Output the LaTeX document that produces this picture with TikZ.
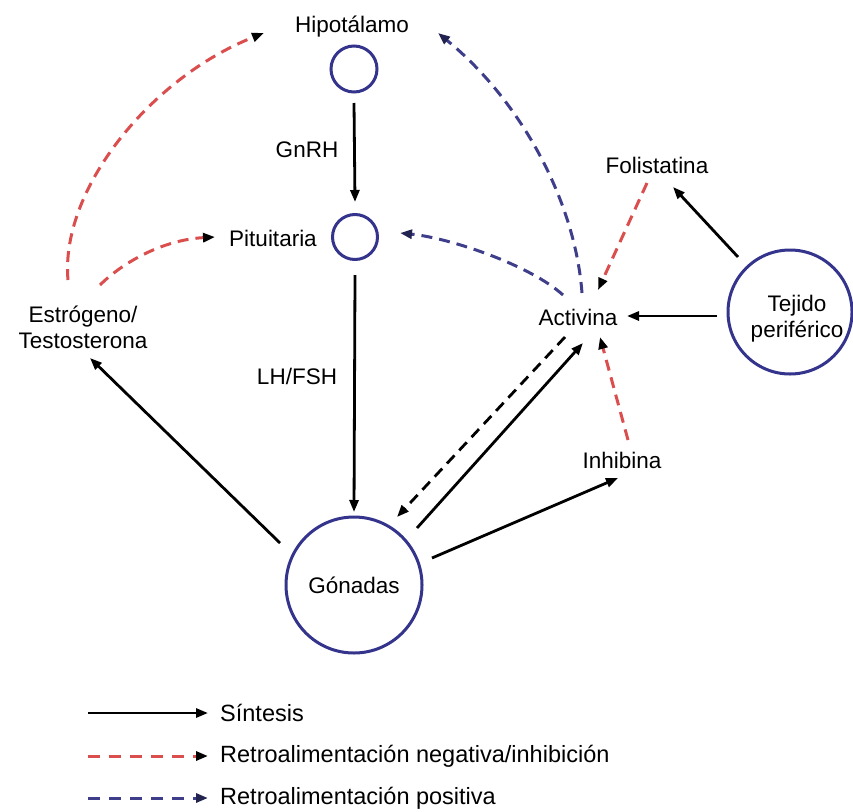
\documentclass[tikz,border=0pt]{standalone}
\usepackage{fontspec}
\setmainfont{Liberation Sans}
\usetikzlibrary{arrows.meta,calc}

\definecolor{fbred}{RGB}{218,78,78}
\definecolor{fbblue}{RGB}{62,62,138}
\definecolor{ringblue}{RGB}{52,52,140}
\definecolor{tipnavy}{RGB}{35,35,80}

\tikzset{
  lbl/.style={font=\fontsize{22.5}{26}\selectfont, inner sep=0pt, align=center},
  leglbl/.style={font=\fontsize{23.5}{27}\selectfont, inner sep=0pt, anchor=west},
  ring/.style={circle, draw=ringblue, line width=3pt, inner sep=0pt},
  tipblk/.style={-{Triangle[length=12pt,width=9pt]}},
  synth/.style={draw=black, line width=2.8pt, tipblk},
  negfb/.style={draw=fbred, line width=3pt, dash pattern=on 11pt off 7pt,
                -{Triangle[length=12pt,width=9pt,color=black]}},
  posfb/.style={draw=fbblue, line width=3pt, dash pattern=on 11pt off 7pt,
                -{Triangle[length=12pt,width=9pt,color=tipnavy]}},
  blkfb/.style={draw=black, line width=2.8pt, dash pattern=on 11pt off 7pt, tipblk},
}

\begin{document}
\begin{tikzpicture}[x=1pt,y=-1pt]
\useasboundingbox (0,0) rectangle (853,811);

% circles
\node[ring, minimum size=46pt] (hip) at (354,69) {};
\node[ring, minimum size=45pt] (pit) at (355,237) {};
\node[ring, minimum size=136pt] (gon) at (354,585) {};
\node[ring, minimum size=124pt] (tej) at (790,312) {};

% labels
\node[lbl] (hipl) at (352,27) {Hipotálamo};
\node[lbl] (pitl) at (273,238) {Pituitaria};
\node[lbl] (gnrh) at (307,150) {GnRH};
\node[lbl] (lhfsh) at (297,376) {LH/FSH};
\node[lbl] (gonl) at (gon.center) {Gónadas};
\node[lbl] (tejl) at ($(tej.center)+(7,7)$) {Tejido\\periférico};
\node[lbl] (estl) at (83,327) {Estrógeno/\\Testosterona};
\node[lbl] (fol) at (657,165) {Folistatina};
\node[lbl] (act) at (578,317) {Activina};
\node[lbl] (inh) at (622,460) {Inhibina};

% synthesis
\draw[synth] ($(hip.center)+(0,34)$) -- ($(pit.center)+(0,-35)$);
\draw[synth] ($(pit.center)+(0,38)$) -- ($(gon.center)+(0,-73)$);
\draw[synth] ($(gon.center)+(-74,-42)$) -- ($(estl.center)+(7,31)$);
\draw[synth] ($(tej.center)+(-52,-55)$) -- ($(fol.center)+(16,22)$);
\draw[synth] ($(tej.center)+(-73,4)$) -- ($(act.center)+(49,-1)$);
\draw[synth] ($(gon.center)+(63,-57)$) -- ($(act.center)+(5,26)$);
\draw[synth] ($(gon.center)+(78,-27)$) -- ($(inh.center)+(-4,18)$);

% negative feedback / inhibition
\draw[negfb] ($(estl.center)+(-15,-47)$) .. controls (60,190) and (150,78) .. ($(hip.center)+(-90,-36)$);
\draw[negfb] ($(estl.center)+(17,-42)$) .. controls (120,265) and (160,240) .. ($(pitl.center)+(-58,-1)$);
\draw[negfb] ($(fol.center)+(-10,18)$) -- ($(act.center)+(20,-27)$);
\draw[negfb] ($(inh.center)+(6,-20)$) -- ($(act.center)+(22,20)$);

% positive feedback
\draw[posfb] ($(act.center)+(4,-24)$) .. controls (575,200) and (520,100) .. ($(hip.center)+(84,-36)$);
\draw[posfb] ($(act.center)+(-15,-22)$) .. controls (530,265) and (450,238) .. ($(pit.center)+(45,-4)$);
\draw[blkfb] ($(act.center)+(-13,20)$) -- ($(gon.center)+(43,-68)$);

% legend
\coordinate (k1a) at (88,713);  \coordinate (k1b) at (208,713);
\coordinate (k2a) at (88,756);  \coordinate (k2b) at (208,756);
\coordinate (k3a) at (88,798);  \coordinate (k3b) at (208,798);
\draw[synth] (k1a) -- (k1b);
\draw[negfb, dash pattern=on 12pt off 9pt] (k2a) -- (k2b);
\draw[posfb, dash pattern=on 12pt off 9pt] (k3a) -- (k3b);
\node[leglbl] (leg1) at (220,713) {Síntesis};
\node[leglbl] (leg2) at (220,756) {Retroalimentación negativa/inhibición};
\node[leglbl] (leg3) at (220,798) {Retroalimentación positiva};
\end{tikzpicture}
\end{document}
